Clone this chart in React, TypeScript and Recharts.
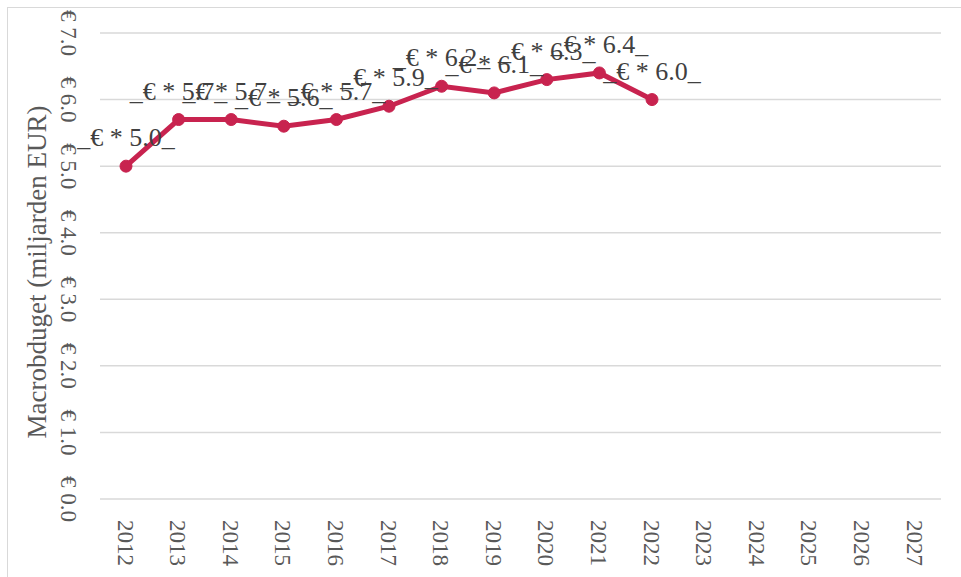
import React from 'react';
import { LineChart, Line, XAxis, YAxis, CartesianGrid, LabelList } from 'recharts';

const years = ['2012', '2013', '2014', '2015', '2016', '2017', '2018', '2019', '2020', '2021', '2022', '2023', '2024', '2025', '2026', '2027'];
const budget: (number | null)[] = [5.0, 5.7, 5.7, 5.6, 5.7, 5.9, 6.2, 6.1, 6.3, 6.4, 6.0, null, null, null, null, null];
const yTicks = [0, 1, 2, 3, 4, 5, 6, 7];
const yTitle = 'Macrobduget (miljarden EUR)';

const data = years.map((year, i) => ({ year, value: budget[i] }));

const FONT = '"Liberation Serif", "Times New Roman", serif';
const TICK_COLOR = '#595959';
const LABEL_COLOR = '#404040';
const LINE_COLOR = '#C8234F';

const XTick = (props: any) => {
  const { x, payload } = props;
  return (
    <text
      transform={`translate(${x - 1},520) rotate(90)`}
      textAnchor="start"
      dominantBaseline="central"
      fontSize={23}
      fill={TICK_COLOR}
      fontFamily={FONT}
    >
      {payload.value}
    </text>
  );
};

const YTick = (props: any) => {
  const { y, payload } = props;
  return (
    <text
      transform={`translate(68,${y}) rotate(90)`}
      textAnchor="middle"
      dominantBaseline="central"
      fontSize={23}
      fill={TICK_COLOR}
      fontFamily={FONT}
    >
      {`€ ${Number(payload.value).toFixed(1)}`}
    </text>
  );
};

const YTitle = () => (
  <text
    transform="translate(37,272) rotate(-90)"
    textAnchor="middle"
    dominantBaseline="central"
    fontSize={27}
    fill={TICK_COLOR}
    fontFamily={FONT}
  >
    {yTitle}
  </text>
);

const DataLabel = (props: any) => {
  const { x, y, value } = props;
  if (value === null || value === undefined) return null;
  return (
    <text
      x={x}
      y={y - 20}
      textAnchor="middle"
      fontSize={26}
      fill={LABEL_COLOR}
      fontFamily={FONT}
    >
      {`_€ * ${Number(value).toFixed(1)}_`}
    </text>
  );
};

export default function App() {
  return (
    <div style={{ position: 'absolute', left: 0, top: 0, width: 961, height: 577, overflow: 'hidden', background: '#fff' }}>
      <div
        style={{
          position: 'absolute',
          left: 7,
          top: 7,
          width: 960,
          height: 580,
          borderLeft: '1.5px solid #D9D9D9',
          borderTop: '1.5px solid #D9D9D9',
        }}
      />
      <div style={{ position: 'absolute', left: 0, top: 0 }}>
        <LineChart width={961} height={577} data={data} margin={{ top: 33, right: 20, bottom: 48, left: 40 }}>
          <CartesianGrid horizontal vertical={false} stroke="#D9D9D9" strokeWidth={1.5} />
          <XAxis
            dataKey="year"
            type="category"
            height={30}
            axisLine={false}
            tickLine={false}
            interval={0}
            padding={{ left: 26, right: 26 }}
            tick={<XTick />}
          />
          <YAxis
            type="number"
            domain={[0, 7]}
            ticks={yTicks}
            width={60}
            axisLine={false}
            tickLine={false}
            interval={0}
            tick={<YTick />}
            label={{ content: () => <YTitle /> }}
          />
          <Line
            type="linear"
            dataKey="value"
            stroke={LINE_COLOR}
            strokeWidth={5}
            dot={{ r: 6, fill: LINE_COLOR, stroke: LINE_COLOR, strokeWidth: 1 }}
            activeDot={false}
            isAnimationActive={false}
            connectNulls={false}
          >
            <LabelList dataKey="value" content={<DataLabel />} />
          </Line>
        </LineChart>
      </div>
    </div>
  );
}
